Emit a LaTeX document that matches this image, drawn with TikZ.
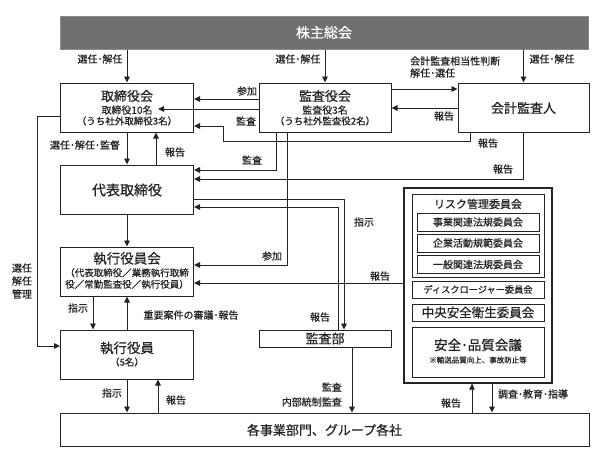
\documentclass[tikz,border=0pt]{standalone}
\usepackage{fontspec}
\setmainfont{Noto Sans CJK JP}[FakeBold=0.5]
\usetikzlibrary{arrows.meta}
\definecolor{lc}{RGB}{35,35,35}
\definecolor{bannerfill}{RGB}{112,112,112}
\begin{document}
\begin{tikzpicture}[x=1pt,y=-1pt,
  line/.style={draw=lc, line width=0.9pt},
  arr/.style={line, -{Triangle[length=6pt,width=5.5pt]}},
  box/.style={draw=lc, line width=1pt, fill=white, inner sep=0pt},
  ft/.style={font=\fontsize{#1}{#1}\selectfont, inner sep=0pt, text=lc},
  lbl/.style={ft=10, inner sep=0pt}
]
\useasboundingbox (0,0) rectangle (607,463);
\fill[white] (0,0) rectangle (607,463);

% ---------------- boxes ----------------
\node[box, draw=bannerfill!80!white, fill=bannerfill, minimum width=528pt, minimum height=33pt] (sh) at (324,32.5) {};
\node[ft=14, text=white] (sht) at (324,32.5) {株主総会};

\node[box, minimum width=133pt, minimum height=49pt] (tb) at (127,107.5) {};
\node[ft=13] (tbt) at (127,96) {取締役会};
\node[ft=10] (tbs1) at (127,110) {取締役10名};
\node[ft=9.5] (tbs2) at (127,121) {（うち社外取締役3名）};

\node[box, minimum width=132pt, minimum height=49pt] (ka) at (325,107.5) {};
\node[ft=13] (kat) at (325,96) {監査役会};
\node[ft=10] (kas1) at (325,110) {監査役3名};
\node[ft=9.5] (kas2) at (325,121) {（うち社外監査役2名）};

\node[box, minimum width=131pt, minimum height=49pt] (ga) at (523.5,107.5) {};
\node[ft=13] (gat) at (523.5,108) {会計監査人};

\node[box, minimum width=133pt, minimum height=49pt] (dt) at (127,189.5) {};
\node[ft=14] (dtt) at (127,190) {代表取締役};

\node[box, minimum width=133pt, minimum height=49pt] (sy) at (127,271.5) {};
\node[ft=13.5] (syt) at (127,258.5) {執行役員会};
\node[ft=9.5, align=center] (sys) at (127,278.5) {（代表取締役／業務執行取締\\[2pt]役／常勤監査役／執行役員）};

\node[box, minimum width=133pt, minimum height=49pt] (yi) at (127,354.5) {};
\node[ft=13.5] (yit) at (127,348) {執行役員};
\node[ft=9.5] (yis) at (127,362) {（5名）};

\node[box, minimum width=132pt, minimum height=17pt] (kb) at (325,338.5) {};
\node[ft=13] (kbt) at (325,338.5) {監査部};

\node[box, minimum width=529pt, minimum height=33pt] (jg) at (324.5,429.5) {};
\node[ft=13] (jgt) at (324.5,430) {各事業部門、グループ各社};

% risk group
\node[box, line width=1.2pt, minimum width=148pt, minimum height=195pt] (ro) at (478,285.5) {};
\node[box, minimum width=132pt, minimum height=83pt] (ri) at (478,235.5) {};
\node[ft=11] (rit) at (478,204) {リスク管理委員会};
\node[box, minimum width=122pt, minimum height=18pt, ft=10] (r1) at (478,222) {事業関連法規委員会};
\node[box, minimum width=122pt, minimum height=18pt, ft=10] (r2) at (478,243) {企業活動規範委員会};
\node[box, minimum width=122pt, minimum height=18pt, ft=10] (r3) at (478,264.5) {一般関連法規委員会};
\node[box, minimum width=132pt, minimum height=17pt, ft=9.2] (r4) at (478,289.5) {ディスクロージャー委員会};
\node[box, minimum width=132pt, minimum height=17pt, ft=12.5] (r5) at (478,312.5) {中央安全衛生委員会};
\node[box, minimum width=132pt, minimum height=50pt] (r6) at (478,352) {};
\node[ft=13.5] (r6t) at (478,345) {安全･品質会議};
\node[ft=7.5] (r6s) at (478,360) {※輸送品質向上、事故防止等};

% ---------------- helper coordinates ----------------
\coordinate (y89) at (0,89);
\coordinate (y99) at (0,99);
\coordinate (y108) at (0,108);
\coordinate (y109) at (0,109);
\coordinate (t109) at (158,109);
\coordinate (b1) at (470,141);
\coordinate (b2) at (223,126);
\coordinate (c156) at (156,0);
\coordinate (c276) at (276,170);
\coordinate (c179) at (0,179);
\coordinate (c199) at (344,199);
\coordinate (c207) at (338,207);
\coordinate (c265) at (287,265);
\coordinate (c283) at (0,283);
\coordinate (c93) at (93,0);
\coordinate (l1) at (37,116);
\coordinate (l2) at (37,346);
\coordinate (c158) at (158,0);
\coordinate (c352) at (352,0);
\coordinate (c472) at (472,0);
\coordinate (c492) at (492,0);

% ---------------- connectors ----------------
\draw[arr] (tb.north |- sh.south) -- (tb.north);
\draw[arr] (ka.north |- sh.south) -- (ka.north);
\draw[arr] (ga.north |- sh.south) -- (ga.north);

\draw[arr] (ka.east |- y89) -- (ga.west |- y89);
\draw[arr] (ga.west |- y108) -- (ka.east |- y108);
\draw[arr] (ka.west |- y99) -- (tb.east |- y99);
\draw[arr] (ka.west |- y109) -- (t109);
\draw[arr] (ga.south -| b1) -- (b1) -| (b2) -- (tb.east |- b2);

\draw[arr] (tb.south) -- (dt.north);
\draw[arr] (dt.north -| c156) -- (tb.south -| c156);
\draw[arr] (ka.south -| c276) -- (c276) -- (dt.east |- c276);
\draw[arr] (ga.south) -- (ga.south |- c179) -- (dt.east |- c179);
\draw[arr] (dt.east |- c199) -- (c199) -- (kb.north -| c199);
\draw[arr] (kb.north -| c207) -- (c207) -- (dt.east |- c207);
\draw[arr] (ka.south -| c265) -- (c265) -- (sy.east |- c265);
\draw[arr] (dt.south) -- (sy.north);
\draw[arr] (ro.west |- c283) -- (sy.east |- c283);

\draw[arr] (sy.south -| c93) -- (yi.north -| c93);
\draw[arr] (yi.north) -- (sy.south);
\draw[arr] (tb.west |- l1) -- (l1) -- (l2) -- (yi.west |- l2);

\draw[arr] (yi.south) -- (jg.north -| yi.south);
\draw[arr] (jg.north -| c158) -- (yi.south -| c158);
\draw[arr] (kb.south -| c352) -- (jg.north -| c352);
\draw[arr] (jg.north -| c472) -- (ro.south -| c472);
\draw[arr] (ro.south -| c492) -- (jg.north -| c492);

% ---------------- labels ----------------
\node[lbl] (L1) at (100,59) {選任･解任};
\node[lbl] (L2) at (298,59) {選任･解任};
\node[lbl] (L3) at (552,59) {選任･解任};
\node[lbl, anchor=west] (L4) at (410,61) {会計監査相当性判断};
\node[lbl, anchor=west] (L5) at (410,73) {解任･選任};
\node[lbl] (L6) at (444,116) {報告};
\node[lbl] (L7) at (247,91) {参加};
\node[lbl] (L8) at (246,121) {監査};
\node[lbl] (L9) at (488,143) {報告};
\node[lbl] (L10) at (85,145) {選任･解任･監督};
\node[lbl] (L11) at (175,152) {報告};
\node[lbl] (L12) at (252,160) {監査};
\node[lbl] (L13) at (503,169) {報告};
\node[lbl] (L14) at (364,222) {指示};
\node[lbl] (L15) at (320,317) {報告};
\node[lbl] (L16) at (272,256) {参加};
\node[lbl] (L17) at (380,276) {報告};
\node[lbl] (L18) at (78,308) {指示};
\node[lbl] (L19) at (191,315) {重要案件の審議･報告};
\node[lbl, align=center] (L20) at (22,281) {選任\\[3pt]解任\\[3pt]管理};
\node[lbl] (L21) at (112,393) {指示};
\node[lbl] (L22) at (176,400) {報告};
\node[lbl, anchor=east] (L23) at (342,387) {監査};
\node[lbl, anchor=east] (L24) at (342,402) {内部統制監査};
\node[lbl] (L25) at (451,403) {報告};
\node[lbl] (L26) at (533,394) {調査･教育･指導};
\end{tikzpicture}
\end{document}
